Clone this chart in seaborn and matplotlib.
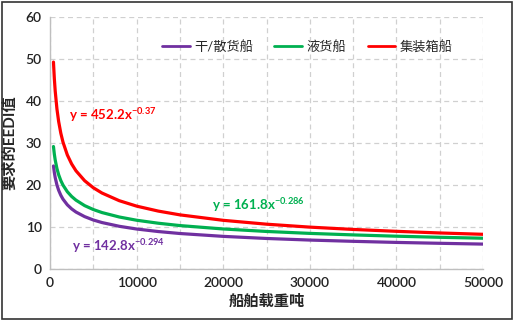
import matplotlib
matplotlib.use("Agg")
import matplotlib.pyplot as plt
import seaborn as sns
import pandas as pd
from matplotlib.patches import Rectangle

dwt = [400, 500, 600, 800, 1000, 1250, 1500, 2000, 2500, 3000, 4000, 5000, 6000,
       8000, 10000, 12500, 15000, 20000, 25000, 30000, 35000, 40000, 45000, 50000]
bulk = [24.53, 22.97, 21.77, 20.01, 18.74, 17.55, 16.63, 15.28, 14.31, 13.56, 12.47,
        11.67, 11.06, 10.17, 9.52, 8.92, 8.45, 7.77, 7.27, 6.89, 6.59, 6.33, 6.12, 5.93]
tanker = [29.16, 27.36, 25.97, 23.92, 22.44, 21.05, 19.98, 18.40, 17.27, 16.39, 15.09,
          14.16, 13.44, 12.38, 11.61, 10.90, 10.34, 9.53, 8.94, 8.48, 8.12, 7.81, 7.55, 7.33]
container = [49.26, 45.36, 42.40, 38.12, 35.10, 32.32, 30.21, 27.16, 25.01, 23.38, 21.02,
             19.35, 18.09, 16.26, 14.97, 13.79, 12.89, 11.59, 10.67, 9.97, 9.42, 8.97, 8.58, 8.26]
series_names = ["干/散货船", "液货船", "集装箱船"]
colors = ["#7030A0", "#00B050", "#FF0000"]
fit_labels = [r"y = 142.8x$^{-0.294}$", r"y = 161.8x$^{-0.286}$", r"y = 452.2x$^{-0.37}$"]
x_ticks = [0, 10000, 20000, 30000, 40000, 50000]
y_ticks = [0, 10, 20, 30, 40, 50, 60]

df = pd.concat([
    pd.DataFrame({"dwt": dwt, "eedi": vals, "type": name})
    for name, vals in zip(series_names, [bulk, tanker, container])
])

sns.set_theme(style="white")
plt.rcParams["font.family"] = ["Lato", "Noto Sans CJK SC", "DejaVu Sans"]
plt.rcParams["mathtext.default"] = "regular"

fig = plt.figure(figsize=(5.16, 3.24), dpi=100)
ax = fig.add_axes([50/516, 1-269/324, (483-50)/516, (269-17)/324])

sns.lineplot(data=df, x="dwt", y="eedi", hue="type", palette=colors,
             hue_order=series_names, linewidth=2.3, ax=ax, legend=True)

ax.set_xlim(0, 50000)
ax.set_ylim(0, 60)
ax.set_xticks(x_ticks)
ax.set_yticks(y_ticks)
ax.set_xticks(range(5000, 50001, 5000), minor=True)
ax.grid(True, which="both", axis="x", color="#d0d0d0", linestyle=(0, (4, 3)), linewidth=0.9)
ax.grid(True, which="major", axis="y", color="#d0d0d0", linestyle=(0, (4, 3)), linewidth=0.9)
ax.tick_params(axis="both", which="both", length=0, labelsize=10, colors="#222222", pad=6)
for lab in ax.get_xticklabels() + ax.get_yticklabels():
    lab.set_fontweight("semibold")
for side in ["top", "right"]:
    ax.spines[side].set_visible(False)
for side in ["left", "bottom"]:
    ax.spines[side].set_color("#bfbfbf")
    ax.spines[side].set_linewidth(1.0)

ax.set_xlabel("船舶载重吨", fontsize=11, fontweight="bold", labelpad=4)
ax.set_ylabel("要求的EEDI值", fontsize=11, fontweight="bold", labelpad=6)

leg = ax.legend(loc="center left", bbox_to_anchor=((162-50)/433, (269-46)/252), ncol=3,
                frameon=False, fontsize=9.5, handlelength=2.1, columnspacing=1.6,
                handletextpad=0.35, borderpad=0, borderaxespad=0)
for line in leg.get_lines():
    line.set_linewidth(2.0)

ax.text(0.045, 0.61, fit_labels[2], transform=ax.transAxes, color=colors[2],
        fontsize=9.5, fontweight="bold", va="center", ha="left")
ax.text(0.375, 0.255, fit_labels[1], transform=ax.transAxes, color=colors[1],
        fontsize=9.5, fontweight="bold", va="center", ha="left")
ax.text(0.05, 0.09, fit_labels[0], transform=ax.transAxes, color=colors[0],
        fontsize=9.5, fontweight="bold", va="center", ha="left")

fig.patches.append(Rectangle((2/516, 1-319/324), (512-2)/516, (319-2)/324,
                             transform=fig.transFigure, fill=False,
                             edgecolor="#333333", linewidth=1.2))

fig.savefig("out.png", dpi=100)
